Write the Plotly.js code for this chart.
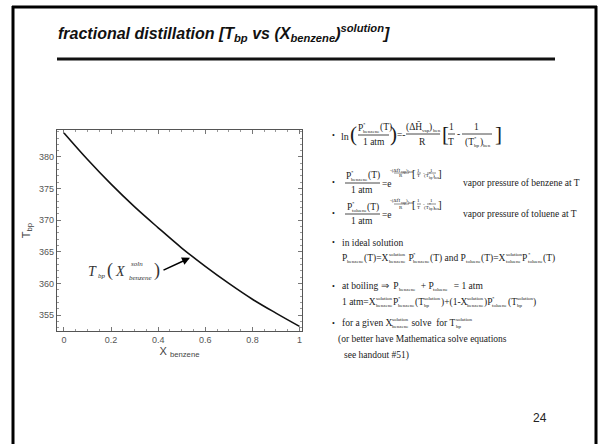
<!DOCTYPE html>
<html>
<head>
<meta charset="utf-8">
<script src="https://cdn.plot.ly/plotly-3.0.1.min.js"></script>
<style>
  html, body { margin: 0; padding: 0; background: #fff; }
  #chart { width: 602px; height: 444px; }
</style>
</head>
<body>
<div id="chart"></div>
<script>
// ---- data ----
var xBenzene = [0, 0.1, 0.2, 0.3, 0.4, 0.5, 0.6, 0.7, 0.8, 0.9, 1.0];
var tBp = [383.8, 379.6, 375.7, 372.1, 368.8, 365.6, 362.7, 360.0, 357.5, 355.3, 353.2];
var xTickVals = [0, 0.2, 0.4, 0.6, 0.8, 1];
var xTickText = ['0', '0.2', '0.4', '0.6', '0.8', '1'];
var yTickVals = [355, 360, 365, 370, 375, 380];
var titleText = '<b><i>fractional distillation [T<sub>bp</sub> vs (X<sub>benzene</sub>)<sup>solution</sup>]</i></b>';
var pageNumber = '24';

// ---- helpers (pixel -> paper) ----
var W = 602, H = 444;
function px(x) { return x / W; }
function py(y) { return 1 - y / H; }
var SERIF = 'Liberation Serif, Times New Roman, serif';
var SANS = 'Liberation Sans, Arial, sans-serif';
var TXT = '#1a1a1a';
var FS = 9.5, SS = 5;
var ctx = document.createElement('canvas').getContext('2d');
function tw(t, size) { ctx.font = size + 'px "Liberation Serif"'; return ctx.measureText(t).width; }
function ann(x, y, text, o) {
  o = o || {};
  return {
    xref: 'paper', yref: 'paper', x: px(x), y: py(y), text: text,
    showarrow: false, xanchor: o.xa || 'center', yanchor: 'middle', borderpad: 0,
    font: { family: o.family || SERIF, size: o.size || FS, color: o.color || TXT }
  };
}
function bar(x0, x1, y, w) {
  return { type: 'line', xref: 'paper', yref: 'paper', x0: px(x0), x1: px(x1), y0: py(y), y1: py(y),
           line: { color: TXT, width: w || 0.8 } };
}

var annotations = [];
var shapes = [];

// lay out a math line: strings are normal text, [sup, sub] pairs are stacked scripts
function mathLine(x, y, tokens, o) {
  o = o || {};
  var size = o.size || FS, ss = o.ss || SS;
  function tokW(tk) {
    if (typeof tk === 'string') return tw(tk, size);
    return Math.max(tk[0] ? tw(tk[0], ss) : 0, tk[1] ? tw(tk[1], ss) : 0) + 0.6;
  }
  var total = 0;
  tokens.forEach(function (tk) { total += tokW(tk); });
  var cx = o.center ? x - total / 2 : x;
  tokens.forEach(function (tk) {
    if (typeof tk === 'string') {
      annotations.push(ann(cx, y, tk, { xa: 'left', size: size }));
    } else {
      if (tk[0]) annotations.push(ann(cx, y - size * 0.42, tk[0], { xa: 'left', size: ss }));
      if (tk[1]) annotations.push(ann(cx, y + size * 0.38, tk[1], { xa: 'left', size: ss }));
    }
    cx += tokW(tk);
  });
}

// slide frame and title rule
shapes.push({ type: 'line', xref: 'paper', yref: 'paper', x0: px(13), x1: px(13), y0: py(6), y1: py(450), line: { color: '#000', width: 3 } });
shapes.push({ type: 'line', xref: 'paper', yref: 'paper', x0: px(12), x1: px(597), y0: py(7), y1: py(7), line: { color: '#000', width: 3 } });
shapes.push({ type: 'line', xref: 'paper', yref: 'paper', x0: px(596), x1: px(596), y0: py(6), y1: py(450), line: { color: '#000', width: 3 } });
shapes.push({ type: 'line', xref: 'paper', yref: 'paper', x0: px(57), x1: px(555), y0: py(59), y1: py(59), line: { color: '#111', width: 3 } });

// title & page number
annotations.push(ann(57, 33, titleText, { xa: 'left', family: SANS, size: 16, color: '#111' }));
annotations.push(ann(540, 418, pageNumber, { family: SANS, size: 12, color: '#222' }));

// in-plot label T_bp(X^soln_benzene)
var LBL = '#333';
annotations.push(ann(92, 271, '<i>T</i>', { size: 14, color: LBL }));
annotations.push(ann(102, 276, '<i>bp</i>', { size: 7, color: LBL }));
annotations.push(ann(110, 270, '(', { size: 18, color: LBL }));
annotations.push(ann(120, 271, '<i>X</i>', { size: 14, color: LBL }));
annotations.push(ann(137, 264, '<i>soln</i>', { size: 7, color: LBL }));
annotations.push(ann(140, 278, '<i>benzene</i>', { size: 7, color: LBL }));
annotations.push(ann(157, 270, ')', { size: 18, color: LBL }));
annotations.push({ xref: 'x', yref: 'y', x: 0.535, y: 364.05, ax: -28, ay: 13, axref: 'pixel', ayref: 'pixel',
  text: '', showarrow: true, arrowhead: 2, arrowsize: 1, arrowwidth: 1.6, arrowcolor: '#000' });

// ---- right-hand equations ----
// bullet 1
annotations.push(ann(333, 135, '•', { size: 8 }));
annotations.push(ann(345, 136, 'ln', { size: 10 }));
annotations.push(ann(353, 134, '(', { size: 21 }));
mathLine(374, 128, ['P', ['*', 'benzene'], '(T)'], { center: true });
shapes.push(bar(358, 389, 135));
annotations.push(ann(374, 142, '1 atm'));
annotations.push(ann(393.5, 134, ')', { size: 21 }));
annotations.push(ann(401, 135, '=-'));
mathLine(422, 127, ['(ΔH̄', [null, 'vap'], ')', [null, 'ben']], { center: true });
shapes.push(bar(406, 440, 134));
annotations.push(ann(422, 142, 'R'));
annotations.push(ann(445, 134, '[', { size: 21 }));
annotations.push(ann(451, 127, '1'));
shapes.push(bar(448, 455, 134));
annotations.push(ann(451, 142, 'T'));
annotations.push(ann(458, 134, '-'));
annotations.push(ann(476, 127, '1'));
shapes.push(bar(462, 492, 134));
mathLine(477, 142, ['(T', ['*', 'bp'], ')', [null, 'ben']], { center: true });
annotations.push(ann(498, 134, ']', { size: 21 }));

// bullets 2 & 3
function vapRow(yc, species, label) {
  annotations.push(ann(333, yc, '•', { size: 8 }));
  mathLine(362, yc - 6, ['P', ['*', species], '(T)'], { center: true });
  shapes.push(bar(345, 380, yc + 1));
  annotations.push(ann(362, yc + 8, '1 atm'));
  annotations.push(ann(381, yc + 2, '=e', { xa: 'left' }));
  mathLine(401, yc - 12, ['-(ΔH̄', [null, 'vap'], ')', [null, 'ben']], { center: true, size: 5, ss: 3.5 });
  shapes.push(bar(394, 409, yc - 9, 0.5));
  annotations.push(ann(401, yc - 6, 'R', { size: 5 }));
  annotations.push(ann(414, yc - 9, '[', { size: 11 }));
  annotations.push(ann(419, yc - 12, '1', { size: 5 }));
  shapes.push(bar(417, 421, yc - 9, 0.5));
  annotations.push(ann(419, yc - 6, 'T', { size: 5 }));
  annotations.push(ann(424, yc - 9, '-', { size: 5 }));
  annotations.push(ann(431, yc - 12, '1', { size: 5 }));
  shapes.push(bar(427, 436, yc - 9, 0.5));
  mathLine(431, yc - 6, ['(T', ['*', 'bp'], ')', [null, 'ben']], { center: true, size: 5, ss: 3.5 });
  annotations.push(ann(440, yc - 9, ']', { size: 11 }));
  annotations.push(ann(462, yc + 1, label, { xa: 'left' }));
}
vapRow(182, 'benzene', 'vapor pressure of benzene at T');
vapRow(213, 'toluene', 'vapor pressure of toluene at T');

// bullet 4
annotations.push(ann(333, 243, '•', { size: 8 }));
annotations.push(ann(341, 243, 'in ideal solution', { xa: 'left' }));
mathLine(341, 258, ['P', [null, 'benzene'], '(T)=X', ['solution', 'benzene'], ' P', ['*', 'benzene'], '(T) and P',
  [null, 'toluene'], '(T)=X', ['solution', 'toluene'], 'P', ['*', 'toluene'], '(T)']);

// bullet 5
annotations.push(ann(333, 286, '•', { size: 8 }));
mathLine(341, 286, ['at boiling ⇒  P', [null, 'benzene'], '  + P', [null, 'toluene'], '  = 1 atm']);
mathLine(341, 302, ['1 atm=X', ['solution', 'benzene'], 'P', ['*', 'benzene'], '(T', ['solution', 'bp'], ')+(1-X',
  ['solution', 'benzene'], ')P', ['*', 'toluene'], '(T', ['solution', 'bp'], ')']);

// bullet 6
annotations.push(ann(333, 323, '•', { size: 8 }));
mathLine(341, 323, ['for a given X', ['solution', 'benzene'], ' solve  for T', ['solution', 'bp']]);
annotations.push(ann(337, 339, '(or better have Mathematica solve equations', { xa: 'left' }));
annotations.push(ann(343, 355, 'see handout #51)', { xa: 'left' }));

var trace = {
  x: xBenzene, y: tBp, type: 'scatter', mode: 'lines',
  line: { color: '#111', width: 1.6, shape: 'spline', smoothing: 1 },
  hoverinfo: 'skip', showlegend: false
};

var axisCommon = {
  showgrid: false, zeroline: false, showline: true, linecolor: '#555', linewidth: 1.2,
  mirror: 'allticks', ticks: 'inside', ticklen: 4, tickwidth: 1, tickcolor: '#777',
  tickfont: { family: SANS, size: 9, color: '#555' }
};

var layout = {
  width: W, height: H, autosize: false,
  margin: { l: 0, r: 0, t: 0, b: 0, pad: 0 },
  paper_bgcolor: '#fff', plot_bgcolor: '#fff',
  showlegend: false,
  xaxis: Object.assign({}, axisCommon, {
    domain: [57 / W, 302 / W], range: [-0.0297, 1.0106],
    tickmode: 'array', tickvals: xTickVals, ticktext: xTickText,
    minor: { ticks: 'inside', ticklen: 2, tickcolor: '#999', dtick: 0.05, tick0: 0 },
    title: { text: 'X <sub>benzene</sub>', font: { family: SANS, size: 11, color: '#444' }, standoff: 3 }
  }),
  yaxis: Object.assign({}, axisCommon, {
    domain: [1 - 331 / H, 1 - 130 / H], range: [352.47, 384.27],
    tickmode: 'array', tickvals: yTickVals,
    minor: { ticks: 'inside', ticklen: 2, tickcolor: '#999', dtick: 1, tick0: 350 },
    title: { text: 'T<sub>bp</sub>', font: { family: SANS, size: 11, color: '#444' }, standoff: 6 }
  }),
  annotations: annotations,
  shapes: shapes
};

Plotly.newPlot('chart', [trace], layout, { displayModeBar: false, staticPlot: true });
</script>
</body>
</html>
